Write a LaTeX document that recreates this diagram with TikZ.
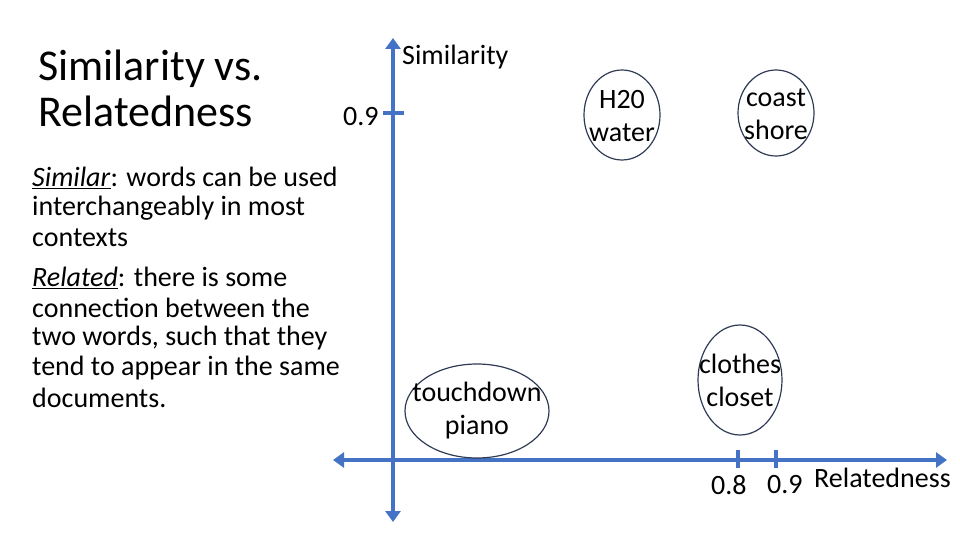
\documentclass[tikz,border=0pt]{standalone}
\usepackage{fontspec}
\setmainfont{Carlito}
\usetikzlibrary{arrows.meta}
\definecolor{ax}{HTML}{4472C4}
\definecolor{ol}{HTML}{2F3B55}
\begin{document}
\begin{tikzpicture}[x=1pt,y=-1pt,
  axis/.style={ax,line width=4.5pt,{Triangle[length=11pt,width=15pt]}-{Triangle[length=11pt,width=15pt]}},
  tick/.style={ax,line width=4.5pt},
  btxt/.style={align=center,font=\fontsize{28}{33}\selectfont,inner sep=0pt},
  txt/.style={anchor=west,font=\fontsize{28}{30}\selectfont,inner sep=0pt}]
\useasboundingbox (0,0) rectangle (960,540);
\coordinate (vt) at (393,38); \coordinate (vb) at (393,522);
\coordinate (hl) at (333,460); \coordinate (hr) at (947,460);
\draw[axis] (vt) -- (vb);
\draw[axis] (hl) -- (hr);
\draw[tick] (383,113) -- (404,113);
\draw[tick] (738,450) -- (738,468);
\draw[tick] (776,450) -- (776,468);
\node[txt] (t09) at (343,117) {0.9};
\node[txt] (h08) at (711,485) {0.8};
\node[txt] (h09) at (767,485) {0.9};
\node[txt] (rel) at (814,478) {Relatedness};
\node[txt] (sim) at (402,57) {Similarity};
\node[anchor=west,inner sep=0pt,align=left,font=\fontsize{44}{46}\selectfont] (title) at (38,88) {Similarity vs.\\Relatedness};
\node[txt] (l1) at (32,178) {\underline{\textit{Similar}}: words can be used};
\node[txt] (l2) at (32,208) {interchangeably in most};
\node[txt] (l3) at (32,238) {contexts};
\node[txt] (l4) at (32,278) {\underline{\textit{Related}}: there is some};
\node[txt] (l5) at (32,308) {connection between the};
\node[txt] (l6) at (32,338) {two words, such that they};
\node[txt] (l7) at (32,368) {tend to appear in the same};
\node[txt] (l8) at (32,398) {documents.};
\draw[draw=ol,line width=1.2pt] (622,115) ellipse [x radius=38,y radius=45];
\node[btxt] (hw) at (622,116) {H20\\water};
\draw[draw=ol,line width=1.2pt] (776,113) ellipse [x radius=38,y radius=43];
\node[btxt] (cs) at (776,114) {coast\\shore};
\draw[draw=ol,line width=1.2pt] (740,380) ellipse [x radius=42,y radius=55];
\node[btxt] (cc) at (740,380) {clothes\\closet};
\draw[draw=ol,line width=1.2pt] (477,411) ellipse [x radius=72,y radius=47];
\node[btxt] (tp) at (477,411) {touchdown\\piano};
\end{tikzpicture}
\end{document}
